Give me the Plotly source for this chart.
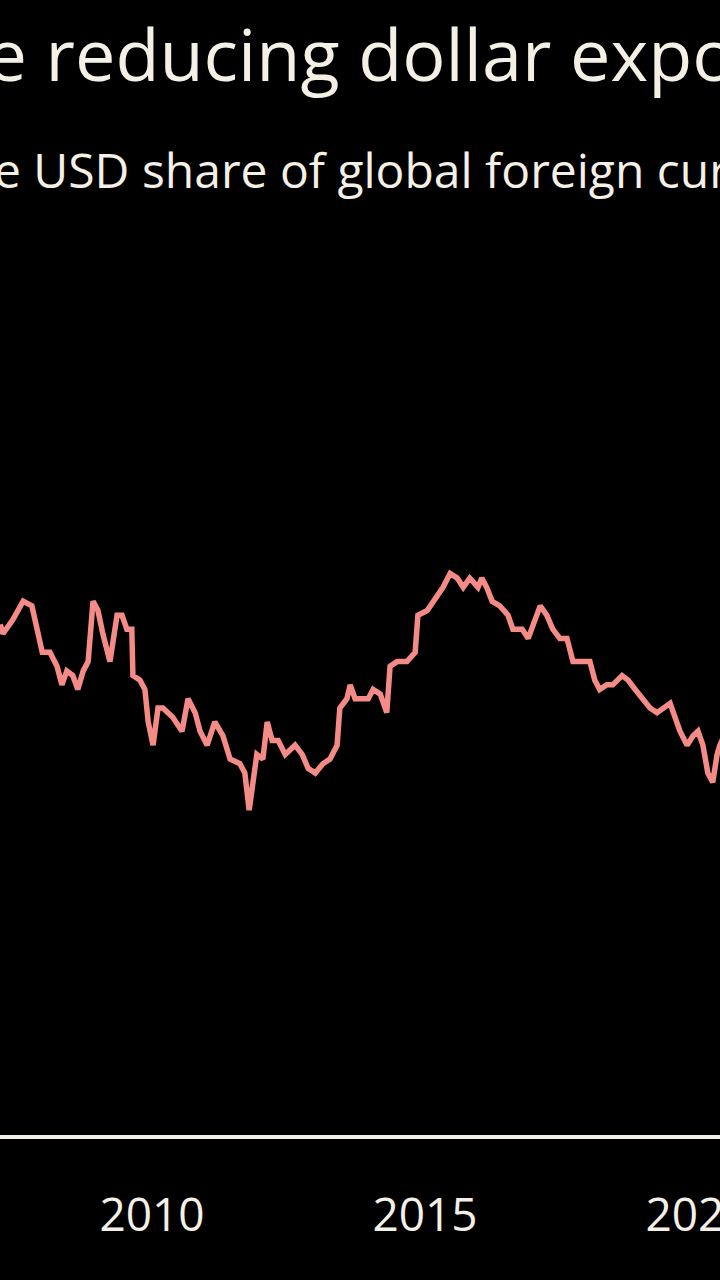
import plotly.graph_objects as go

# Decimal years and USD share of global FX reserves (%)
years = [
    2007.22, 2007.27, 2007.45, 2007.64, 2007.80, 2007.89, 2007.99, 2008.13, 2008.26, 2008.35,
    2008.44, 2008.55, 2008.64, 2008.74, 2008.83, 2008.92, 2009.01, 2009.10, 2009.23, 2009.36,
    2009.45, 2009.54, 2009.63, 2009.65, 2009.78, 2009.87, 2009.93, 2010.02, 2010.11, 2010.20,
    2010.38, 2010.55, 2010.66, 2010.79, 2010.88, 2011.01, 2011.15, 2011.30, 2011.43, 2011.61,
    2011.70, 2011.78, 2011.85, 2011.92, 2012.03, 2012.11, 2012.20, 2012.31, 2012.44, 2012.62,
    2012.75, 2012.86, 2012.99, 2013.13, 2013.26, 2013.39, 2013.44, 2013.57, 2013.63, 2013.72,
    2013.85, 2013.96, 2014.05, 2014.18, 2014.30, 2014.36, 2014.49, 2014.67, 2014.82, 2014.87,
    2015.04, 2015.22, 2015.33, 2015.46, 2015.59, 2015.70, 2015.82, 2015.97, 2016.04, 2016.13,
    2016.23, 2016.37, 2016.52, 2016.61, 2016.78, 2016.89, 2016.98, 2017.11, 2017.23, 2017.34,
    2017.47, 2017.60, 2017.71, 2017.84, 2018.02, 2018.11, 2018.20, 2018.33, 2018.44, 2018.61,
    2018.72, 2018.85, 2018.97, 2019.12, 2019.25, 2019.36, 2019.49, 2019.58, 2019.67, 2019.80,
    2019.91, 2020.00, 2020.09, 2020.18, 2020.27, 2020.35, 2020.40, 2020.48,
]
usd_share = [
    65.0, 64.8, 65.1, 65.5, 65.4, 64.9, 64.4, 64.4, 64.1, 63.7,
    64.0, 63.9, 63.6, 64.0, 64.2, 65.5, 65.3, 64.8, 64.2, 65.2,
    65.2, 64.9, 64.9, 63.9, 63.8, 63.6, 62.9, 62.4, 63.2, 63.2,
    63.0, 62.7, 63.4, 63.1, 62.7, 62.4, 62.9, 62.6, 62.1, 62.0,
    61.8, 61.0, 61.7, 62.2, 62.1, 62.9, 62.5, 62.5, 62.2, 62.4,
    62.2, 61.9, 61.8, 62.0, 62.1, 62.4, 63.2, 63.4, 63.7, 63.4,
    63.4, 63.4, 63.6, 63.5, 63.1, 64.1, 64.2, 64.2, 64.4, 65.2,
    65.3, 65.6, 65.8, 66.1, 66.0, 65.8, 66.0, 65.8, 66.0, 65.8,
    65.5, 65.4, 65.2, 64.9, 64.9, 64.7, 65.0, 65.4, 65.2, 64.9,
    64.7, 64.7, 64.2, 64.2, 64.2, 63.8, 63.6, 63.7, 63.7, 63.9,
    63.8, 63.6, 63.4, 63.2, 63.1, 63.2, 63.3, 63.0, 62.7, 62.4,
    62.6, 62.7, 62.4, 61.8, 61.6, 62.2, 62.4, 62.6,
]
tick_years = [2010, 2015, 2020]
tick_labels = ["2010", "2015", "2020"]

title_text = "Central banks are reducing dollar exposure"
subtitle_text = "The USD share of global foreign currency reserves"

W, H = 720, 1280
MT, MB = 230, 145
plot_h = H - MT - MB

def py(pixel_y):
    return 1 + (MT - pixel_y) / plot_h

def px(pixel_x):
    return pixel_x / W

TEXT = "#f4f0e6"
FONT = "Open Sans"

fig = go.Figure()
fig.add_trace(go.Scatter(
    x=years, y=usd_share, mode="lines",
    line=dict(color="#f58b86", width=5.5),
    hoverinfo="skip", showlegend=False,
))

fig.update_layout(
    width=W, height=H, autosize=False,
    paper_bgcolor="#000000", plot_bgcolor="#000000",
    margin=dict(l=0, r=0, t=MT, b=MB, autoexpand=False),
    xaxis=dict(
        range=[2007.216, 2020.403],
        tickvals=tick_years, ticktext=tick_labels,
        showgrid=False, zeroline=False, automargin=False,
        showline=True, linecolor=TEXT, linewidth=4,
        ticks="", ticklabelstandoff=37, ticklabeloverflow="allow",
        tickfont=dict(family=FONT, size=46, color=TEXT),
    ),
    yaxis=dict(
        range=[54, 73.5], visible=False, showgrid=False, zeroline=False,
        automargin=False,
    ),
    annotations=[
        dict(text=title_text, xref="paper", yref="paper",
             x=px(-566), y=py(53), xanchor="left", yanchor="middle",
             showarrow=False, font=dict(family=FONT, size=72, color=TEXT)),
        dict(text=subtitle_text, xref="paper", yref="paper",
             x=px(-64), y=py(170), xanchor="left", yanchor="middle",
             showarrow=False, font=dict(family=FONT, size=48, color=TEXT)),
    ],
)

fig.write_html(
    "out.html",
    config=dict(displayModeBar=False, responsive=False),
    post_script="document.body.style.margin='0';document.body.style.overflow='hidden';"
                "document.body.style.background='#000';"
                "document.documentElement.style.background='#000';"
                "document.documentElement.style.overflow='hidden';",
)
